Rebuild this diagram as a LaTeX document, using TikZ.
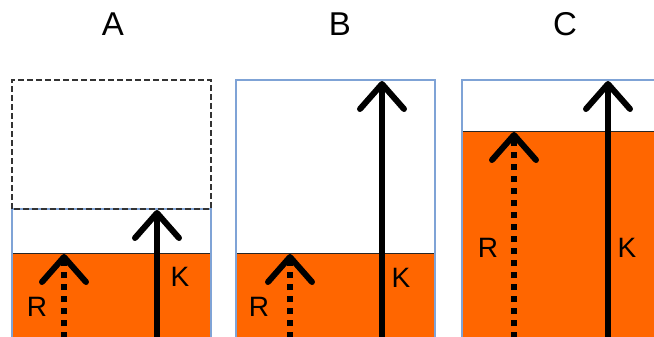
\documentclass[tikz,border=0pt]{standalone}
\usepackage{fontspec}
\setmainfont{Liberation Sans}
\usetikzlibrary{arrows.meta}
\definecolor{fillorange}{HTML}{FF6600}
\definecolor{boxblue}{HTML}{7FA3D6}
\begin{document}
\begin{tikzpicture}[x=1pt,y=-1pt,
  box/.style={draw=boxblue, line width=1.5pt},
  surface/.style={draw=black!85, line width=1pt},
  ghost/.style={draw=black!80, dash pattern=on 6pt off 3pt, line width=1.3pt},
  karrow/.style={line width=6pt, -{Straight Barb[length=25pt,width=44pt,round]}},
  rarrow/.style={karrow, dash pattern=on 6pt off 6pt},
  title/.style={inner sep=0pt, font=\fontsize{33}{33}\selectfont},
  lab/.style={inner sep=0pt, font=\fontsize{28}{28}\selectfont}]
\useasboundingbox (0,0) rectangle (654,337);
\clip (0,0) rectangle (654,337);
% titles
\node[title] (tA) at (113,24) {A};
\node[title] (tB) at (340,24) {B};
\node[title] (tC) at (565,24) {C};
% ---------- Panel A
\fill[fillorange] (12,253) rectangle (211,350);
\draw[surface] (12,253) -- (211,253);
\draw[box] (12,350) -- (12,209) -- (211,209) -- (211,350);
\draw[ghost] (12,209) -- (12,80) -- (211,80) -- (211,209) -- cycle;
\coordinate (aK0) at (157,350);
\coordinate (aK1) at (157,210);
\coordinate (aR0) at (64,350);
\coordinate (aR1) at (64,254);
\draw[karrow] (aK0) -- (aK1);
\draw[rarrow] (aR0) -- (aR1);
\node[lab] (aKl) at (180,277) {K};
\node[lab] (aRl) at (37,307) {R};
% ---------- Panel B
\fill[fillorange] (236,253) rectangle (435,350);
\draw[surface] (236,253) -- (435,253);
\draw[box] (236,350) -- (236,80) -- (435,80) -- (435,350);
\coordinate (bK0) at (382,350);
\coordinate (bK1) at (382,81);
\coordinate (bR0) at (290,350);
\coordinate (bR1) at (290,254);
\draw[karrow] (bK0) -- (bK1);
\draw[rarrow] (bR0) -- (bR1);
\node[lab] (bKl) at (401,278) {K};
\node[lab] (bRl) at (259,307) {R};
% ---------- Panel C
\fill[fillorange] (462,131) rectangle (670,350);
\draw[surface] (462,131) -- (670,131);
\draw[box] (462,350) -- (462,80) -- (670,80);
\coordinate (cK0) at (608,350);
\coordinate (cK1) at (608,81);
\coordinate (cR0) at (514,350);
\coordinate (cR1) at (514,132);
\draw[karrow] (cK0) -- (cK1);
\draw[rarrow] (cR0) -- (cR1);
\node[lab] (cKl) at (627,248) {K};
\node[lab] (cRl) at (488,248) {R};
\end{tikzpicture}
\end{document}
